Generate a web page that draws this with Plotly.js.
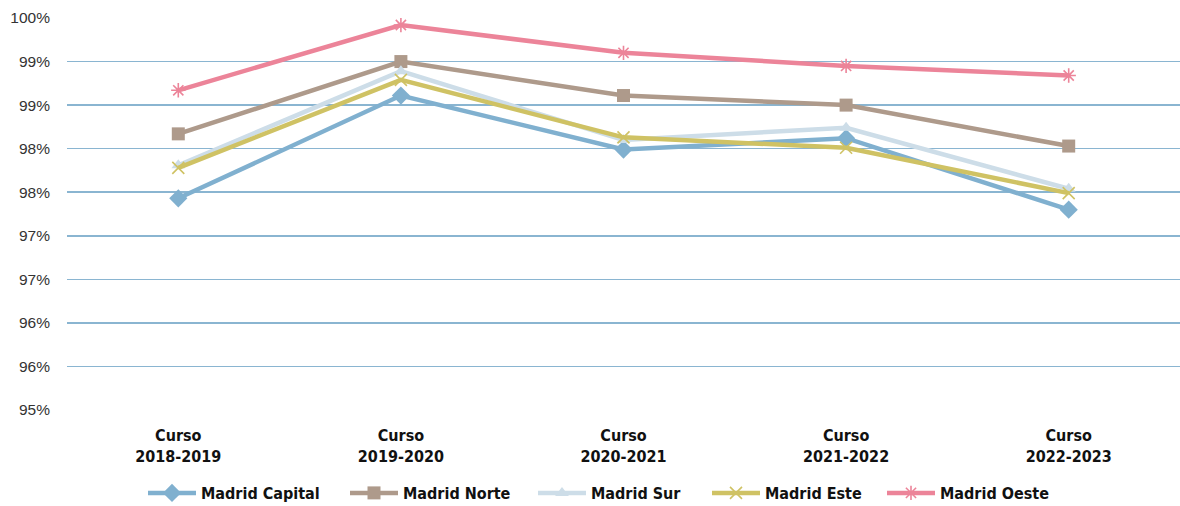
<!DOCTYPE html>
<html>
<head>
<meta charset="utf-8">
<script src="https://cdn.plot.ly/plotly-3.0.1.min.js"></script>
<style>html,body{margin:0;padding:0;background:#fff}#chart{width:1180px;height:506px}</style>
</head>
<body>
<div id="chart"></div>
<script>
const categories = ["Curso<br>2018-2019", "Curso<br>2019-2020", "Curso<br>2020-2021", "Curso<br>2021-2022", "Curso<br>2022-2023"];
const madridCapital = [97.43, 98.61, 97.99, 98.12, 97.30];
const madridNorte   = [98.17, 99.00, 98.61, 98.50, 98.03];
const madridSur     = [97.81, 98.89, 98.10, 98.24, 97.54];
const madridEste    = [97.78, 98.79, 98.13, 98.01, 97.49];
const madridOeste   = [98.67, 99.42, 99.10, 98.95, 98.84];
const seriesNames = ["Madrid Capital", "Madrid Norte", "Madrid Sur", "Madrid Este", "Madrid Oeste"];
const yTickVals = [95, 95.5, 96, 96.5, 97, 97.5, 98, 98.5, 99, 99.5];
const yTickText = ["95%", "96%", "96%", "97%", "97%", "98%", "98%", "99%", "99%", "100%"];

const colors = ["#80b0cf", "#ae9a8b", "#cddde8", "#cfc264", "#ec8499"];
const symbols = ["diamond", "square", "triangle-up", "x-thin", "asterisk"];
const msizes = [14, 13, 12, 12, 12];
const values = [madridCapital, madridNorte, madridSur, madridEste, madridOeste];
const condensed = "DejaVu Sans Condensed, Liberation Sans Narrow, Arial Narrow, sans-serif";
// left edge (px) of each legend entry
const legendX = [143, 345, 533, 707, 882];
const legendIds = ["legend", "legend2", "legend3", "legend4", "legend5"];

const traces = values.map((v, i) => {
  const thin = symbols[i] === "x-thin" || symbols[i] === "asterisk";
  return {
    type: "scatter",
    mode: "lines+markers",
    name: seriesNames[i],
    legend: legendIds[i],
    x: categories,
    y: v,
    line: {color: colors[i], width: 4.5},
    marker: {
      symbol: symbols[i],
      size: msizes[i],
      color: colors[i],
      line: {color: colors[i], width: thin ? 1.6 : 0}
    },
    hoverinfo: "skip"
  };
});

const layout = {
  width: 1180,
  height: 506,
  margin: {l: 67, r: 0, t: 18, b: 96},
  paper_bgcolor: "#ffffff",
  plot_bgcolor: "#ffffff",
  showlegend: true,
  xaxis: {
    type: "category",
    range: [-0.5, 4.5],
    showgrid: false,
    zeroline: false,
    showline: false,
    ticks: "",
    ticklabelstandoff: 14,
    tickfont: {family: condensed, size: 16, color: "#111", weight: "bold"}
  },
  yaxis: {
    range: [95, 99.5],
    tickvals: yTickVals,
    ticktext: yTickText,
    showgrid: true,
    gridcolor: "#8ab5d1",
    gridwidth: 1.6,
    zeroline: false,
    showline: false,
    ticks: "",
    ticklabelstandoff: 16,
    tickfont: {family: "Liberation Sans, Arial, sans-serif", size: 15.5, color: "#333"}
  }
};
legendIds.forEach((id, i) => {
  layout[id] = {
    orientation: "h",
    x: legendX[i] / 1180, xref: "container", xanchor: "left",
    y: 13 / 506, yref: "container", yanchor: "middle",
    font: {family: condensed, size: 16, color: "#111", weight: "bold"},
    itemwidth: 48,
    bgcolor: "rgba(0,0,0,0)"
  };
});

Plotly.newPlot("chart", traces, layout, {staticPlot: true, displayModeBar: false});
</script>
</body>
</html>
